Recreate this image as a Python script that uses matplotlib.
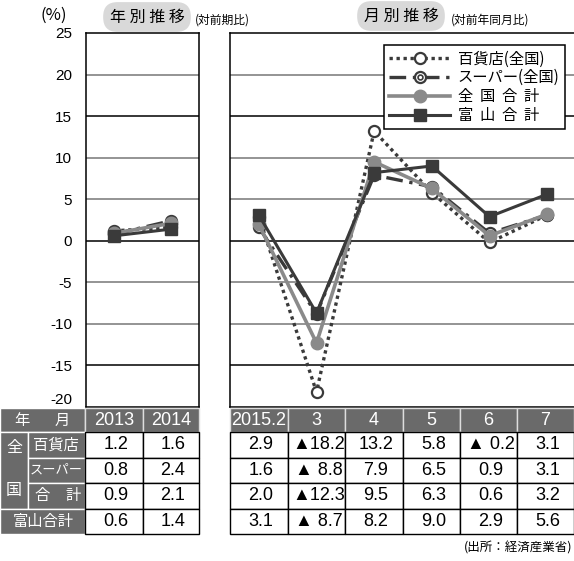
import matplotlib
matplotlib.use("Agg")
import matplotlib.pyplot as plt
from matplotlib.patches import Rectangle

plt.rcParams['font.family'] = ['Noto Sans CJK JP', 'DejaVu Sans']
plt.rcParams['axes.unicode_minus'] = False
NUM_FONT = ['Liberation Sans Narrow', 'Liberation Sans', 'DejaVu Sans']

# 年別 / 月別の伸び率 (%)
years = ['2013', '2014']
months = ['2015.2', '3', '4', '5', '6', '7']
series_names = ['百貨店(全国)', 'スーパー(全国)', '全  国  合  計', '富  山  合  計']
row_labels = ['百貨店', 'スーパー', '合　計', '富山合計']

dept_year = [1.2, 1.6]
super_year = [0.8, 2.4]
natl_year = [0.9, 2.1]
toyama_year = [0.6, 1.4]

dept_month = [2.9, -18.2, 13.2, 5.8, -0.2, 3.1]
super_month = [1.6, -8.8, 7.9, 6.5, 0.9, 3.1]
natl_month = [2.0, -12.3, 9.5, 6.3, 0.6, 3.2]
toyama_month = [3.1, -8.7, 8.2, 9.0, 2.9, 5.6]

yticks = [25, 20, 15, 10, 5, 0, -5, -10, -15, -20]

W, H = 574, 561
fig = plt.figure(figsize=(W / 100, H / 100), dpi=100)


def px_axes(x0, y0, x1, y1, **kw):
    return fig.add_axes([x0 / W, 1 - y1 / H, (x1 - x0) / W, (y1 - y0) / H], **kw)


dark = '#3a3a3a'
gray = '#8a8a8a'

styles = [
    dict(color=dark, lw=2.4, ls=(0, (1, 1.1)), marker='o', ms=8, mfc='white', mec=dark, mew=1.6),
    dict(color=dark, lw=2.4, ls=(0, (5, 2, 1, 2)), marker='o', ms=8, mfc='white', mec=dark, mew=1.6),
    dict(color=gray, lw=2.6, ls='-', marker='o', ms=9, mfc=gray, mec=gray),
    dict(color=dark, lw=2.2, ls='-', marker='s', ms=8, mfc=dark, mec=dark),
]
inner = dict(ls='none', marker='o', ms=3.5, mfc='white', mec=dark, mew=1.2)


def setup(ax, n):
    ax.set_xlim(-0.5, n - 0.5)
    ax.set_ylim(-20, 25)
    for v in yticks[1:-1]:
        ax.axhline(v, color='black' if v % 15 == 0 else '#777777', lw=1.1, zorder=1)
    ax.set_xticks([])
    for s in ax.spines.values():
        s.set_color('black')
        s.set_linewidth(1.1)


def draw(ax, data, x):
    handles = []
    for i, (vals, st) in enumerate(zip(data, styles)):
        ln, = ax.plot(x, vals, zorder=3 + i, **st)
        if i == 1:
            dot, = ax.plot(x, vals, zorder=3 + i, **inner)
            handles.append((ln, dot))
        else:
            handles.append(ln)
    return handles


# 年別推移
ax1 = px_axes(86, 33, 199, 407)
setup(ax1, len(years))
ax1.set_yticks(yticks)
ax1.tick_params(axis='y', length=0, pad=10)
for lab in ax1.get_yticklabels():
    lab.set_fontfamily(NUM_FONT[1:])
    lab.set_fontsize(11)
ax1.get_yticklabels()[-1].set_va('bottom')
draw(ax1, [dept_year, super_year, natl_year, toyama_year], range(len(years)))

# 月別推移
ax2 = px_axes(230, 33, 576, 407)
setup(ax2, len(months))
ax2.set_yticks([])
ax2.spines['right'].set_visible(False)
handles = draw(ax2, [dept_month, super_month, natl_month, toyama_month], range(len(months)))
leg = ax2.legend(handles, series_names, loc='upper right',
                 bbox_to_anchor=(565 / W, 1 - 45 / H), bbox_transform=fig.transFigure,
                 fancybox=False, framealpha=1, edgecolor='black', fontsize=11,
                 handlelength=4.0, labelspacing=0.12, borderpad=0.35, handletextpad=0.5,
                 borderaxespad=0)
leg.get_frame().set_linewidth(1.1)
leg.set_zorder(20)

# 見出し
fig.text(40 / W, 1 - 15 / H, '(%)', fontsize=12, va='center', ha='left')
box = dict(boxstyle='round,pad=0.4,rounding_size=0.9', fc='#d9d9d9', ec='none')
fig.text(147 / W, 1 - 17 / H, '年 別 推 移', fontsize=11.5, ha='center', va='center', bbox=box)
fig.text(195 / W, 1 - 20 / H, '(対前期比)', fontsize=8.5, ha='left', va='center')
fig.text(401 / W, 1 - 16 / H, '月 別 推 移', fontsize=11.5, ha='center', va='center', bbox=box)
fig.text(451 / W, 1 - 20 / H, '(対前年同月比)', fontsize=8.5, ha='left', va='center')

# 表
tab = fig.add_axes([0, 0, 1, 1], zorder=30)
tab.set_xlim(0, W)
tab.set_ylim(H, 0)
tab.axis('off')

rows = [408, 432, 457.5, 483, 508.5, 534]
cols_l = [85, 143, 199]
cols_r = [230, 288, 345, 403, 460, 517, 574]
hdr = '#6a6a6a'


def cell(x0, x1, y0, y1, fc, ec, lw=1.0):
    tab.add_patch(Rectangle((x0, y0), x1 - x0, y1 - y0, fc=fc, ec=ec, lw=lw))


def put(x, y, s, color='black', size=12, family=None, ha='center'):
    tab.text(x, y, s, color=color, fontsize=size, ha=ha, va='center',
             family=family or plt.rcParams['font.family'])


def fmt(v):
    if v < 0:
        return '▲' + ('' if abs(v) >= 10 else ' ') + f'{abs(v):.1f}'
    return f'{v:.1f}'


# 見出し行
cell(0, 85, rows[0], rows[1], hdr, 'white')
put(22, 420, '年', 'white', 11)
put(62, 420, '月', 'white', 11)
for labels, edges in ((years, cols_l), (months, cols_r)):
    for j, lab in enumerate(labels):
        cell(edges[j], edges[j + 1], rows[0], rows[1], hdr, '#dddddd')
        put((edges[j] + edges[j + 1]) / 2, 420, lab, 'white', 13, NUM_FONT)

# 行ラベル
cell(0, 28, rows[1], rows[4], hdr, 'white')
put(14, 447, '全', 'white', 11.5)
put(14, 490, '国', 'white', 11.5)
for i in range(3):
    cell(28, 85, rows[i + 1], rows[i + 2], hdr, 'white')
put(56, (rows[1] + rows[2]) / 2, row_labels[0], 'white', 11)
put(56, (rows[2] + rows[3]) / 2, row_labels[1], 'white', 9.5)
put(42, (rows[3] + rows[4]) / 2, '合', 'white', 11)
put(73, (rows[3] + rows[4]) / 2, '計', 'white', 11)
cell(0, 85, rows[4], rows[5], hdr, 'white')
put(43, (rows[4] + rows[5]) / 2, row_labels[3], 'white', 11)

# 数値
year_rows = [dept_year, super_year, natl_year, toyama_year]
month_rows = [dept_month, super_month, natl_month, toyama_month]
for i in range(4):
    y0, y1 = rows[i + 1], rows[i + 2]
    for vals, edges in ((year_rows[i], cols_l), (month_rows[i], cols_r)):
        for j, v in enumerate(vals):
            cell(edges[j], edges[j + 1], y0, y1, 'white', 'black', 1.0)
            put((edges[j] + edges[j + 1]) / 2 + 2, (y0 + y1) / 2, fmt(v), 'black', 13, NUM_FONT)

fig.text(572 / W, 1 - 548 / H, '(出所：経済産業省)', fontsize=9, ha='right', va='center')

fig.savefig('out.png', dpi=100)
